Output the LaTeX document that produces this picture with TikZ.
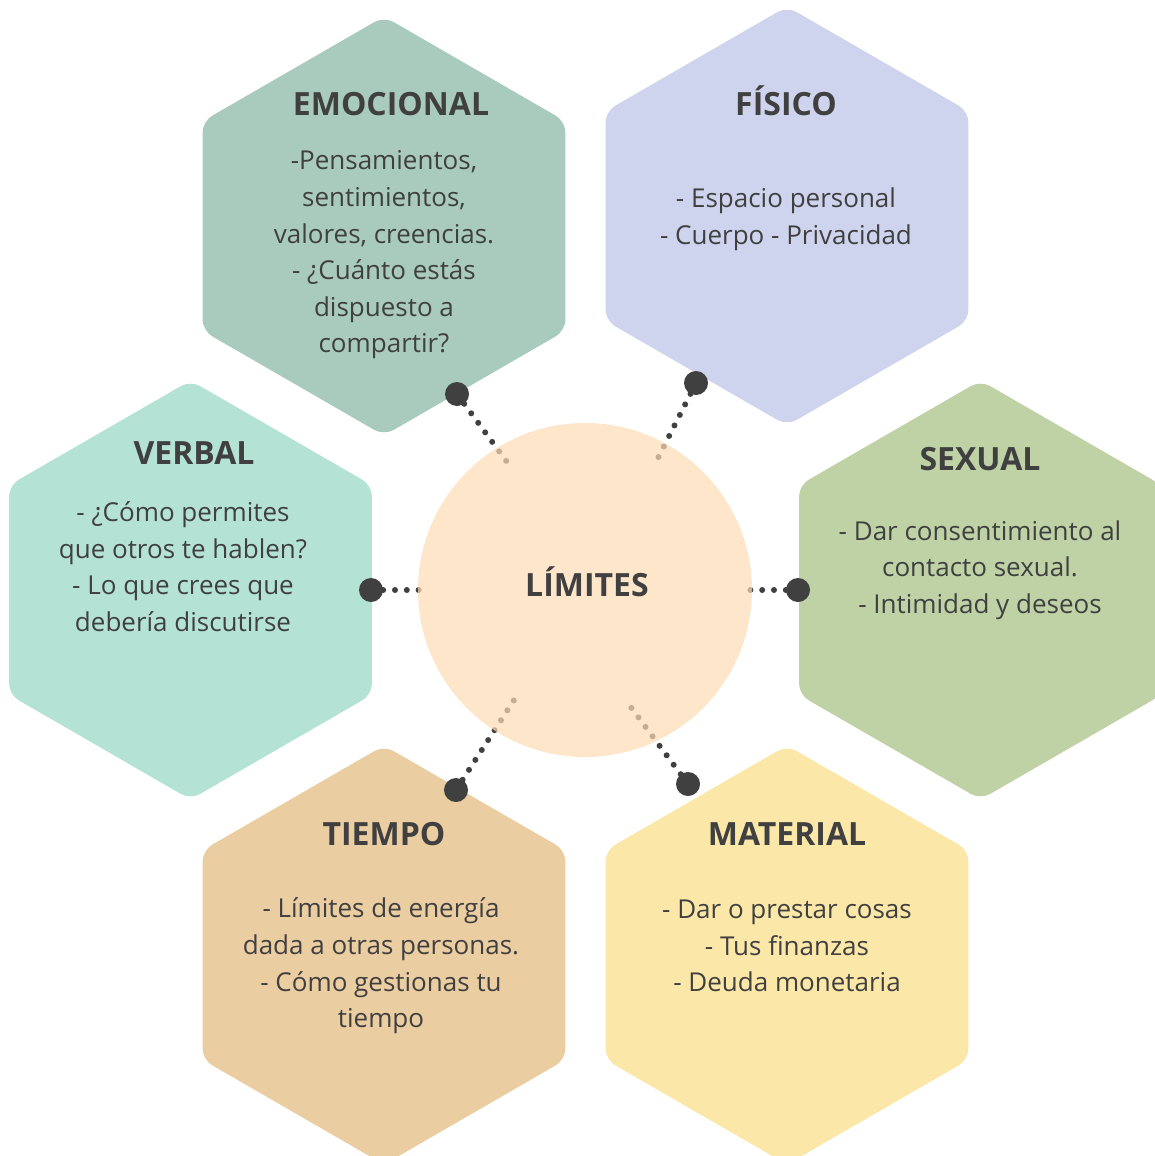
\documentclass[tikz,border=0pt]{standalone}
\usepackage{fontspec}
\setmainfont{Open Sans}
\usepackage{tikz}
\usetikzlibrary{shapes.geometric}
\definecolor{inkgray}{HTML}{404040}
\definecolor{emotiongreen}{HTML}{A8CBBD}
\definecolor{bodylilac}{HTML}{CFD4EE}
\definecolor{voicemint}{HTML}{B4E2D4}
\definecolor{intimacysage}{HTML}{BED2A5}
\definecolor{timetan}{HTML}{EBCDA2}
\definecolor{goodsyellow}{HTML}{FBE7A8}
\definecolor{corepeach}{HTML}{FEDBB5}

\tikzset{
  hexcell/.style={regular polygon, regular polygon sides=6, shape border rotate=30,
    minimum size=419pt, inner sep=0pt, outer sep=0pt, rounded corners=11pt},
  celltitle/.style={font=\bfseries\fontsize{32}{38}\selectfont, text=inkgray,
    inner sep=0pt, text height=22.8pt, text depth=0pt},
  celltext/.style={font=\fontsize{26}{36.6}\selectfont, text=inkgray, align=center, inner sep=0pt},
  pin/.style={circle, fill=inkgray, minimum size=24pt, inner sep=0pt},
  link/.style={inkgray, line width=6pt, line cap=round, dash pattern=on 0pt off 11.8pt},
}

\begin{document}
\begin{tikzpicture}[x=1pt, y=-1pt]
  \useasboundingbox (0,0) rectangle (1155,1156);
  \clip (0,0) rectangle (1155,1156);

  % Six boundary cells around the core
  \node[hexcell, fill=emotiongreen] (emo) at (384,226) {};
  \node[hexcell, fill=bodylilac] (fis) at (787,216) {};
  \node[hexcell, fill=voicemint] (ver) at (190.5,590) {};
  \node[hexcell, fill=intimacysage] (sex) at (980.5,590) {};
  \node[hexcell, fill=timetan] (tie) at (384,955) {};
  \node[hexcell, fill=goodsyellow] (mat) at (787,955) {};

  % Titles and notes of each cell
  \node[celltitle] (emo-title) at (391,104) {EMOCIONAL};
  \node[celltext] (emo-text) at (384,255) {-Pensamientos,\\ sentimientos,\\ valores, creencias.\\ - ¿Cuánto estás\\ dispuesto a\\ compartir?};
  \node[celltitle] (fis-title) at (786,104) {FÍSICO};
  \node[celltext] (fis-text) at (786,219) {- Espacio personal\\ - Cuerpo - Privacidad};
  \node[celltitle] (ver-title) at (194,453) {VERBAL};
  \node[celltext] (ver-text) at (183,566.5) {- ¿Cómo permites\\ que otros te hablen?\\ - Lo que crees que\\ debería discutirse};
  \node[celltitle] (sex-title) at (980,459) {SEXUAL};
  \node[celltext] (sex-text) at (980,570) {- Dar consentimiento al\\ contacto sexual.\\ - Intimidad y deseos};
  \node[celltitle] (tie-title) at (384,834) {TIEMPO};
  \node[celltext] (tie-text) at (381,966) {- Límites de energía\\ dada a otras personas.\\ - Cómo gestionas tu\\ tiempo};
  \node[celltitle] (mat-title) at (787,834) {MATERIAL};
  \node[celltext] (mat-text) at (787,946) {- Dar o prestar cosas\\ - Tus finanzas\\ - Deuda monetaria};

  % Pins on the cell borders, dotted links towards the core
  \node[pin] (emo-pin) at (457,394) {};
  \node[pin] (fis-pin) at (696,383) {};
  \node[pin] (ver-pin) at (371,590) {};
  \node[pin] (sex-pin) at (798,590) {};
  \node[pin] (tie-pin) at (456,790) {};
  \node[pin] (mat-pin) at (688,784) {};
  \coordinate (emo-end) at (507,462);
  \coordinate (fis-end) at (658,458);
  \coordinate (ver-end) at (419,590);
  \coordinate (sex-end) at (742,590);
  \coordinate (tie-end) at (514,700);
  \coordinate (mat-end) at (627,702);
  \foreach \cell in {emo,fis,ver,sex,tie,mat}
    \draw[link] (\cell-pin) -- (\cell-end);

  % Core circle laid over the link ends
  \node[circle, fill=corepeach, fill opacity=0.7, minimum size=334pt, inner sep=0pt] (core) at (585,590) {};
  \node[celltitle] (core-title) at (587,585) {LÍMITES};
\end{tikzpicture}
\end{document}
